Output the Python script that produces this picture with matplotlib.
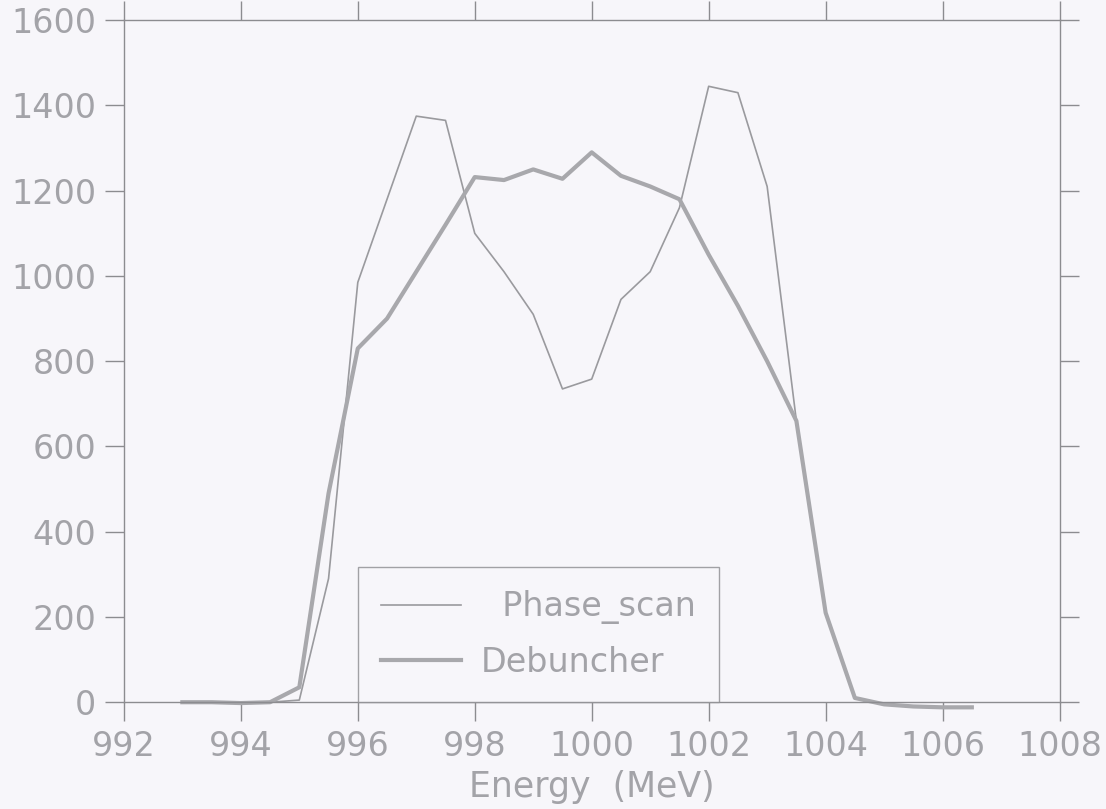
import matplotlib
matplotlib.use("Agg")
from matplotlib import pyplot as plt

# energy grid (MeV) and counts
energy = [993.0, 993.5, 994.0, 994.5, 995.0, 995.5, 996.0, 996.5, 997.0, 997.5,
          998.0, 998.5, 999.0, 999.5, 1000.0, 1000.5, 1001.0, 1001.5, 1002.0, 1002.5,
          1003.0, 1003.5, 1004.0, 1004.5, 1005.0, 1005.5, 1006.0, 1006.5]
phase_scan = [0, 0, -2, 0, 5, 290, 985, 1180, 1375, 1365,
              1100, 1010, 910, 735, 758, 945, 1010, 1160, 1445, 1430,
              1210, 660, 210, 10, -5, -10, -12, -12]
debuncher = [0, 0, -2, 0, 35, 490, 830, 900, 1010, 1120,
             1232, 1225, 1250, 1228, 1290, 1235, 1210, 1180, 1050, 930,
             800, 660, 210, 10, -5, -10, -12, -12]

x_ticks = [992, 994, 996, 998, 1000, 1002, 1004, 1006, 1008]
y_ticks = [0, 200, 400, 600, 800, 1000, 1200, 1400, 1600]

text_col = '#a3a3a8'
line_col = '#8c8c90'
bg = '#f7f6fa'

fig = plt.figure(figsize=(11.06, 8.09), dpi=100, facecolor=bg)
ax = fig.add_axes([0.112, 0.132, 0.846, 0.843])
ax.set_facecolor(bg)

ax.plot(energy, phase_scan, color='#9a9a9e', lw=1.2, label='  Phase_scan', clip_on=False)
ax.plot(energy, debuncher, color='#a8a8ac', lw=3.0, label='Debuncher', clip_on=False)

ax.set_xlim(992, 1008)
ax.set_ylim(0, 1600)
ax.set_xticks(x_ticks)
ax.set_yticks(y_ticks)
ax.tick_params(which='both', direction='out', length=14, width=1.0,
               color=line_col, labelcolor=text_col, labelsize=24,
               top=True, right=True, pad=6)
for s in ax.spines.values():
    s.set_color(line_col)
    s.set_linewidth(1.0)

ax.set_xlabel('Energy  (MeV)', fontsize=25, color=text_col, labelpad=5)

leg = ax.legend(loc='lower left', bbox_to_anchor=(0.25, 0.0), fontsize=24,
                frameon=True, fancybox=False, handlelength=2.4, handletextpad=0.6,
                borderpad=0.7, labelspacing=0.65, borderaxespad=0.0)
leg.get_frame().set_edgecolor(line_col)
leg.get_frame().set_facecolor(bg)
leg.get_frame().set_linewidth(1.0)
for t in leg.get_texts():
    t.set_color(text_col)

fig.savefig('out.png', dpi=100, facecolor=bg)
